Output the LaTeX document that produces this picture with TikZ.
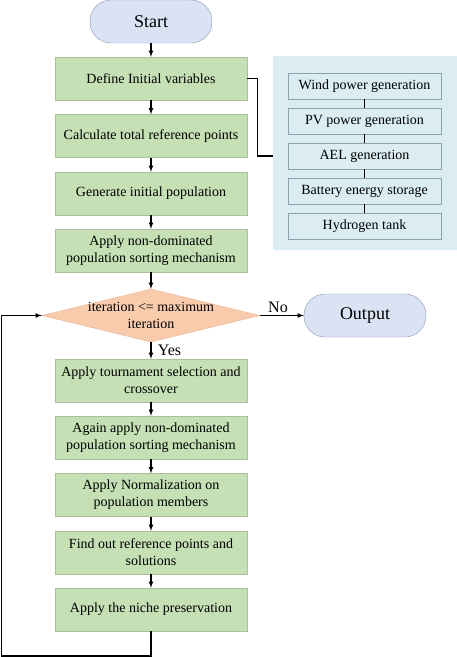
\documentclass[tikz,border=0pt]{standalone}
\usepackage{fontspec}
\setmainfont{Liberation Serif}
\usepackage{tikz}
\usetikzlibrary{shapes.geometric, positioning}

\definecolor{termfill}{RGB}{218,227,243}
\definecolor{termdraw}{RGB}{140,152,178}
\definecolor{stepfill}{RGB}{197,224,180}
\definecolor{stepdraw}{RGB}{168,192,156}
\definecolor{condfill}{RGB}{248,203,173}
\definecolor{conddraw}{RGB}{236,180,150}
\definecolor{panelfill}{RGB}{219,237,243}
\definecolor{itemdraw}{RGB}{140,162,172}

\begin{document}
\begin{tikzpicture}[x=1pt, y=-1pt, font=\fontsize{14}{17}\selectfont]
        % Setup the style for the nodes
        \tikzset{term style/.style={rectangle,
                                    rounded corners=21pt,
                                    minimum width=122pt,
                                    minimum height=43pt,
                                    draw=termdraw,
                                    fill=termfill,
                                    font=\fontsize{18}{20}\selectfont},
                 step style/.style={rectangle,
                                    minimum width=192pt,
                                    minimum height=43pt,
                                    align=center,
                                    inner sep=1pt,
                                    draw=stepdraw,
                                    fill=stepfill},
                 cond style/.style={diamond,
                                    minimum width=218pt,
                                    minimum height=53pt,
                                    inner sep=0pt,
                                    draw=conddraw,
                                    fill=condfill},
                 item style/.style={rectangle,
                                    minimum width=153pt,
                                    minimum height=26pt,
                                    inner sep=1pt,
                                    draw=itemdraw,
                                    fill=panelfill},
                 flow/.style={->, >=latex, line width=1.1pt}}

        \useasboundingbox (0,0) rectangle (457,657);

        % Draw the main flow
        \node[term style] at (151, 21.5)  (start)  {Start};
        \node[step style] at (151, 78.5)  (define) {Define Initial variables};
        \node[step style] at (151, 136)   (refs)   {Calculate total reference points};
        \node[step style] at (151, 193.5) (init)   {Generate initial population};
        \node[step style] at (151, 250.5) (sort)   {Apply non-dominated\\population sorting mechanism};
        \node[cond style] at (151, 315.5) (check)
            {}; 
        \node[align=center] at (check) (checktext) {iteration <= maximum\\iteration};
        \node[term style] at (365, 315.5) (output) {Output};
        \node[step style] at (151, 380.5) (select) {Apply tournament selection and\\crossover};
        \node[step style] at (151, 437.5) (resort) {Again apply non-dominated\\population sorting mechanism};
        \node[step style] at (151, 495)   (norm)   {Apply Normalization on\\population members};
        \node[step style] at (151, 552.5) (find)   {Find out reference points and\\solutions};
        \node[step style] at (151, 609.5) (niche)  {Apply the niche preservation};
        \coordinate (loop) at (1.5, 656);

        % Draw the variable panel
        \node[rectangle, fill=panelfill, minimum width=184pt, minimum height=194pt,
              inner sep=0pt] at (365, 153) (panel) {};
        \node[item style] at (364.5, 86)  (wind)    {Wind power generation};
        \node[item style] at (364.5, 121) (pv)      {PV power generation};
        \node[item style] at (364.5, 156) (ael)     {AEL generation};
        \node[item style] at (364.5, 191) (battery) {Battery energy storage};
        \node[item style] at (364.5, 226) (tank)    {Hydrogen tank};

        % Connect the nodes with arrows
        \draw[flow] (start)  -- (define);
        \draw[flow] (define) -- (refs);
        \draw[flow] (refs)   -- (init);
        \draw[flow] (init)   -- (sort);
        \draw[flow] (sort)   -- (check);
        \draw[flow] (check)  -- node[right=3pt, font=\fontsize{16}{18}\selectfont] {Yes} (select);
        \draw[flow] (check)  -- node[above=-1pt, xshift=-4pt, font=\fontsize{16}{18}\selectfont] {No} (output);
        \draw[flow] (select) -- (resort);
        \draw[flow] (resort) -- (norm);
        \draw[flow] (norm)   -- (find);
        \draw[flow] (find)   -- (niche);
        \draw[flow] (niche.south) |- (loop) |- (check.west);

        % Connect the panel
        \draw[line width=1.1pt] (define.east) -- ++(10,0) |- (panel.west |- ael.west);
        \draw[line width=1.1pt] (wind) -- (pv) (pv) -- (ael) (ael) -- (battery) (battery) -- (tank);
\end{tikzpicture}
\end{document}
